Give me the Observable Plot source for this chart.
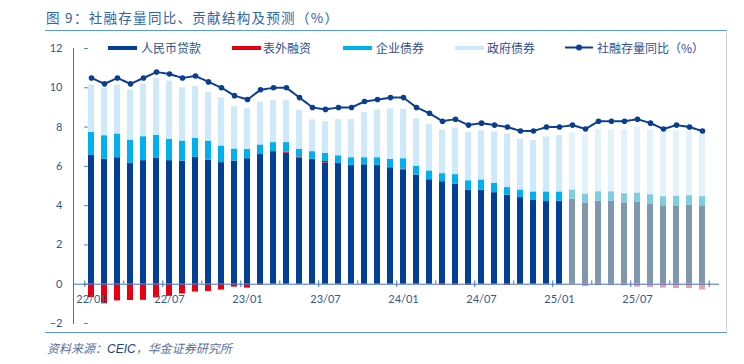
<!DOCTYPE html>
<html><head><meta charset="utf-8">
<script src="https://cdn.jsdelivr.net/npm/d3@7"></script>
<script src="https://cdn.jsdelivr.net/npm/@observablehq/plot@0.6"></script>
<style>
body{margin:0;background:#fff;width:744px;height:364px;overflow:hidden;position:relative;font-family:"Noto Sans CJK SC",sans-serif;}
#title{position:absolute;left:45px;top:0;width:682px;height:31px;border-bottom:1.5px solid #5B9BD5;box-sizing:border-box;}
#title span{position:absolute;left:1px;top:9px;font-size:13.5px;line-height:16px;letter-spacing:1.3px;color:#2F64A6;white-space:nowrap;}
#chart{position:absolute;left:0;top:35px;}
#legend{position:absolute;left:0;top:39px;width:744px;height:18px;font-size:12px;color:#2F4F8F;}
.sw{position:absolute;top:6.5px;height:4px;width:29px;}
.lt{position:absolute;top:0;line-height:17px;white-space:nowrap;}
#rb{position:absolute;left:726px;top:33px;width:1px;height:297px;background:#CDCDCD;}
#cap{position:absolute;left:45px;top:332px;width:682px;border-top:1.5px solid #5B9BD5;}
#cap span{position:absolute;left:2px;top:7px;font-size:12px;line-height:16px;font-style:italic;color:#5C6F98;white-space:nowrap;}
#cap b{font-weight:normal;color:#203F86;font-family:"Liberation Sans",sans-serif;}
</style></head>
<body>
<div id="title"><span>图 9：社融存量同比、贡献结构及预测（%）</span></div>
<div id="chart"></div>
<div id="legend"></div>
<div id="rb"></div>
<div id="cap"><span>资料来源：<b>CEIC</b>，华金证券研究所</span></div>
<script>
const months = ["22/01","22/02","22/03","22/04","22/05","22/06","22/07","22/08","22/09","22/10","22/11","22/12",
"23/01","23/02","23/03","23/04","23/05","23/06","23/07","23/08","23/09","23/10","23/11","23/12",
"24/01","24/02","24/03","24/04","24/05","24/06","24/07","24/08","24/09","24/10","24/11","24/12",
"25/01","25/02","25/03","25/04","25/05","25/06","25/07","25/08","25/09","25/10","25/11","25/12"];
const loan = [6.58,6.36,6.44,6.15,6.29,6.43,6.29,6.27,6.46,6.32,6.19,6.27,
6.39,6.60,6.75,6.67,6.43,6.30,6.17,6.15,6.05,6.08,6.05,5.93,
5.80,5.56,5.32,5.22,5.10,4.78,4.78,4.66,4.53,4.41,4.29,4.21,
4.22,4.32,4.14,4.22,4.22,4.14,4.19,4.09,3.99,3.99,4.02,3.99];
const offBalance = [-0.68,-1.0,-0.85,-0.83,-0.82,-0.7,-0.62,-0.5,-0.4,-0.37,-0.3,-0.15,
-0.2,-0.05,0,0.05,0.05,0.06,0.08,0,0,0,0,0,
0.06,0,0,-0.05,-0.05,-0.05,0,0,-0.05,0,0,0,
0,-0.02,-0.12,-0.07,-0.07,-0.08,-0.15,-0.17,-0.2,-0.22,-0.22,-0.29];
const corpBond = [1.15,1.20,1.21,1.19,1.22,1.15,1.09,1.02,0.97,0.97,0.85,0.61,
0.48,0.49,0.46,0.49,0.39,0.39,0.41,0.39,0.39,0.36,0.39,0.43,
0.53,0.44,0.45,0.41,0.48,0.49,0.53,0.48,0.39,0.39,0.41,0.49,
0.48,0.48,0.46,0.49,0.49,0.47,0.46,0.47,0.47,0.50,0.49,0.47];
const govBond = [2.41,2.44,2.49,2.54,2.66,2.90,2.96,2.71,2.64,2.49,2.44,2.16,
2.06,2.18,2.15,2.15,1.98,1.61,1.61,1.85,1.95,2.29,2.43,2.57,
2.51,2.43,2.37,2.22,2.37,2.44,2.49,2.61,2.73,2.58,2.62,2.79,
2.86,2.90,3.00,3.17,3.14,3.24,3.35,3.29,3.25,3.31,3.25,3.17];
const growth = [10.5,10.2,10.5,10.2,10.5,10.8,10.7,10.5,10.6,10.3,10.0,9.6,
9.4,9.9,10.0,10.0,9.5,9.0,8.9,9.0,9.0,9.3,9.4,9.5,
9.5,9.0,8.7,8.3,8.4,8.1,8.2,8.1,8.0,7.8,7.8,8.0,
8.0,8.1,7.9,8.3,8.3,8.3,8.4,8.2,7.9,8.1,8.0,7.8];
const forecastStart = "25/02";
const xTickLabels = ["22/01","22/07","23/01","23/07","24/01","24/07","25/01","25/07"];
const majorTickMonths = ["22/01","22/07","23/01","23/07","24/01","24/07","25/01","25/07"];
const minorTickMonths = ["22/04","22/10","23/04","23/10","24/04","24/10","25/04","25/10"];
const yTicks = [-2,0,2,4,6,8,10,12];
const seriesNames = ["人民币贷款","表外融资","企业债券","政府债券"];
const lineName = "社融存量同比（%）";
const colors = ["#023F95","#E60012","#00B0F0","#CDE9FA"];
const forecastColors = ["#8197AE","#EE9BA4","#7FCDE2","#E3F1F9"];
const lineColor = "#0A3E92";
const axisColor = "#4472C4";

const fi = months.indexOf(forecastStart);
const rows = [];
[loan, offBalance, corpBond, govBond].forEach((arr, s) =>
  arr.forEach((v, i) => rows.push({month: months[i], series: seriesNames[s], value: v,
    color: i >= fi ? forecastColors[s] : colors[s]})));
const growthRows = months.map((m, i) => ({month: m, value: growth[i]}));

const chart = Plot.plot({
  width: 744, height: 298,
  marginLeft: 73, marginRight: 25, marginTop: 13, marginBottom: 10,
  style: {fontFamily: "Lato, 'Noto Sans CJK SC', sans-serif", fontSize: "11px", color: "#35578F", background: "transparent"},
  x: {type: "band", domain: months, paddingInner: 0.56, paddingOuter: 0.28, axis: null},
  y: {domain: [-2, 12], axis: null},
  color: {type: "identity"},
  marks: [
    Plot.barY(rows, {x: "month", y: "value", z: "series", fill: "color"}),
    Plot.ruleY([0], {stroke: axisColor, strokeWidth: 1}),
    Plot.frame({anchor: "left", stroke: axisColor, strokeWidth: 1}),
    Plot.axisY(yTicks, {tickSize: 0, tickPadding: 11, label: null, color: "#35578F"}),
    Plot.tickY(yTicks, {y: d => d, x: () => months[0], stroke: axisColor, insetLeft: 0, insetRight: 2.5, dx: -3.8}),
    Plot.ruleX(majorTickMonths, {x: d => d, y1: -0.17, y2: 0.17, dx: -6.73, stroke: axisColor}),
    Plot.ruleX(["25/12"], {x: d => d, y1: -0.17, y2: 0.17, dx: 6.73, stroke: axisColor}),
    Plot.ruleX(minorTickMonths, {x: d => d, y1: 0, y2: 0.17, dx: -6.73, stroke: axisColor}),
    Plot.text(xTickLabels, {x: d => d, y: d => 0, dy: 15, fill: "#35578F", fontSize: 11}),
    Plot.line(growthRows, {x: "month", y: "value", stroke: lineColor, strokeWidth: 2, strokeDasharray: "7,1.5"}),
    Plot.dot(growthRows, {x: "month", y: "value", r: 2.8, fill: lineColor})
  ]
});
document.getElementById("chart").appendChild(chart);

// legend
const legend = document.getElementById("legend");
const swLeft = [108, 232, 343, 455];
const txLeft = [141, 263, 376, 487];
seriesNames.forEach((n, i) => {
  const s = document.createElement("div"); s.className = "sw";
  s.style.left = swLeft[i] + "px"; s.style.background = colors[i]; legend.appendChild(s);
  const t = document.createElement("div"); t.className = "lt";
  t.style.left = txLeft[i] + "px"; t.textContent = n; legend.appendChild(t);
});
const ls = document.createElementNS("http://www.w3.org/2000/svg", "svg");
ls.setAttribute("width", 30); ls.setAttribute("height", 18);
ls.style.position = "absolute"; ls.style.left = "564px"; ls.style.top = "0px";
ls.innerHTML = `<line x1="1" x2="29" y1="8.5" y2="8.5" stroke="${lineColor}" stroke-width="2"/><circle cx="15" cy="8.5" r="3" fill="${lineColor}"/>`;
legend.appendChild(ls);
const lt = document.createElement("div"); lt.className = "lt";
lt.style.left = "597px"; lt.textContent = lineName; legend.appendChild(lt);
</script>
</body></html>
